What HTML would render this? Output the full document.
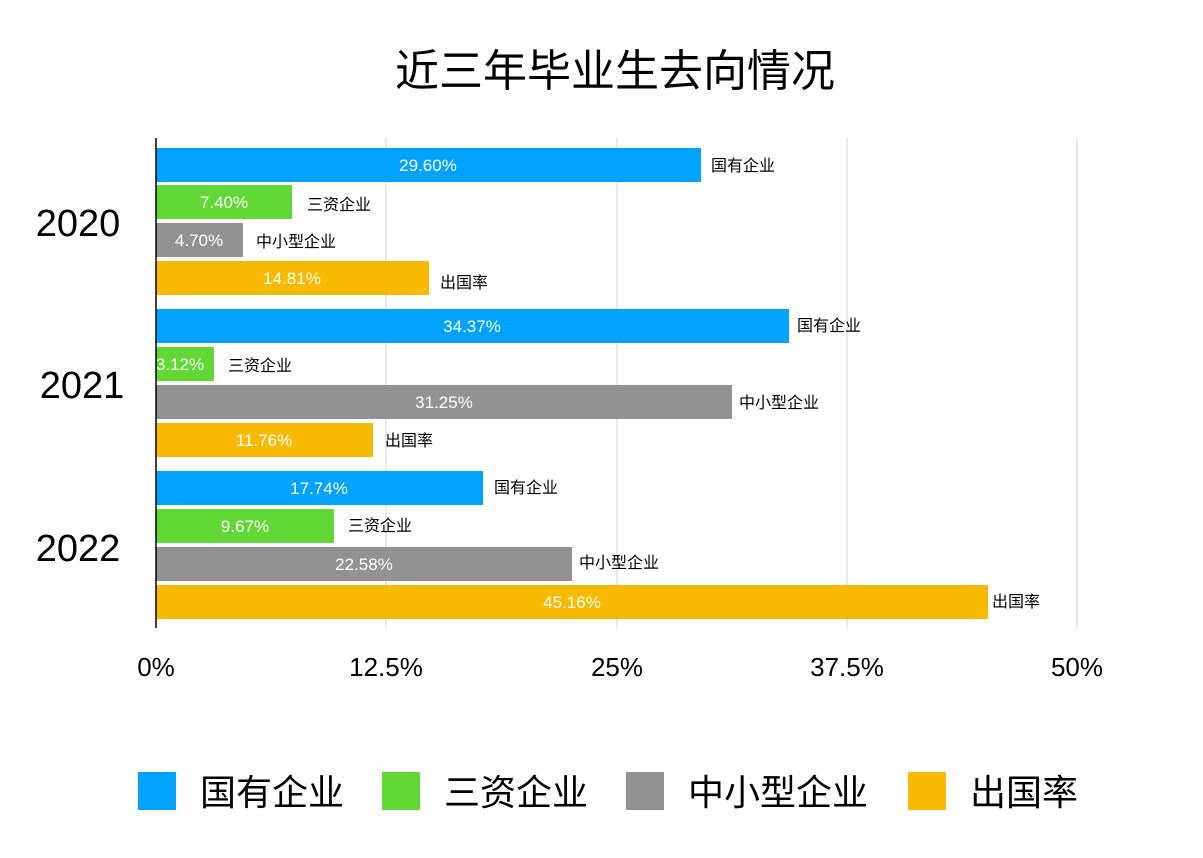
<!DOCTYPE html>
<html><head><meta charset="utf-8"><style>
body{margin:0;background:#fff;}
svg text{font-family:"Liberation Sans","Noto Sans CJK SC",sans-serif;}
</style></head><body>
<svg width="1203" height="853" xmlns="http://www.w3.org/2000/svg">
<rect width="1203" height="853" fill="#fff"/>
<text x="615" y="86" font-size="44" text-anchor="middle" fill="#000">近三年毕业生去向情况</text>
<g stroke="#e0e0e0" stroke-width="1.5">
<line x1="386" y1="138" x2="386" y2="628"/>
<line x1="617" y1="138" x2="617" y2="628"/>
<line x1="847" y1="138" x2="847" y2="628"/>
<line x1="1077" y1="138" x2="1077" y2="628"/>
</g>
<g font-size="17" fill="#fff" text-anchor="middle">
<rect x="156" y="148" width="545" height="34" fill="#00a2ff"/><text x="428" y="171">29.60%</text>
<rect x="156" y="185" width="136" height="34" fill="#61d836"/><text x="224" y="208">7.40%</text>
<rect x="156" y="223" width="87" height="34" fill="#929292"/><text x="199" y="246">4.70%</text>
<rect x="156" y="261" width="273" height="34" fill="#f8ba00"/><text x="292" y="284">14.81%</text>
<rect x="156" y="309" width="633" height="34" fill="#00a2ff"/><text x="472" y="332">34.37%</text>
<rect x="156" y="347" width="58" height="34" fill="#61d836"/><text x="180" y="370">3.12%</text>
<rect x="156" y="385" width="576" height="34" fill="#929292"/><text x="444" y="408">31.25%</text>
<rect x="156" y="423" width="217" height="34" fill="#f8ba00"/><text x="264" y="446">11.76%</text>
<rect x="156" y="471" width="327" height="34" fill="#00a2ff"/><text x="319" y="494">17.74%</text>
<rect x="156" y="509" width="178" height="34" fill="#61d836"/><text x="245" y="532">9.67%</text>
<rect x="156" y="547" width="416" height="34" fill="#929292"/><text x="364" y="570">22.58%</text>
<rect x="156" y="585" width="832" height="34" fill="#f8ba00"/><text x="572" y="608">45.16%</text>
</g>
<g font-size="16" fill="#000">
<text x="711" y="171">国有企业</text>
<text x="307" y="210">三资企业</text>
<text x="256" y="247">中小型企业</text>
<text x="440" y="288">出国率</text>
<text x="797" y="331">国有企业</text>
<text x="228" y="371">三资企业</text>
<text x="739" y="408">中小型企业</text>
<text x="385" y="446">出国率</text>
<text x="494" y="493">国有企业</text>
<text x="348" y="531">三资企业</text>
<text x="579" y="568">中小型企业</text>
<text x="992" y="607">出国率</text>
</g>
<line x1="156" y1="138" x2="156" y2="628" stroke="#000" stroke-width="1.5"/>
<g font-size="38" fill="#000" text-anchor="middle">
<text x="78" y="236">2020</text>
<text x="82" y="398">2021</text>
<text x="78" y="561">2022</text>
</g>
<g font-size="26" fill="#000" text-anchor="middle">
<text x="156" y="676">0%</text>
<text x="386" y="676">12.5%</text>
<text x="617" y="676">25%</text>
<text x="847" y="676">37.5%</text>
<text x="1077" y="676">50%</text>
</g>
<g font-size="36" fill="#000">
<rect x="138" y="772" width="38" height="38" fill="#00a2ff"/><text x="200" y="805">国有企业</text>
<rect x="382" y="772" width="38" height="38" fill="#61d836"/><text x="444" y="805">三资企业</text>
<rect x="626" y="772" width="38" height="38" fill="#929292"/><text x="688" y="805">中小型企业</text>
<rect x="908" y="772" width="38" height="38" fill="#f8ba00"/><text x="970" y="805">出国率</text>
</g>
</svg>
</body></html>
